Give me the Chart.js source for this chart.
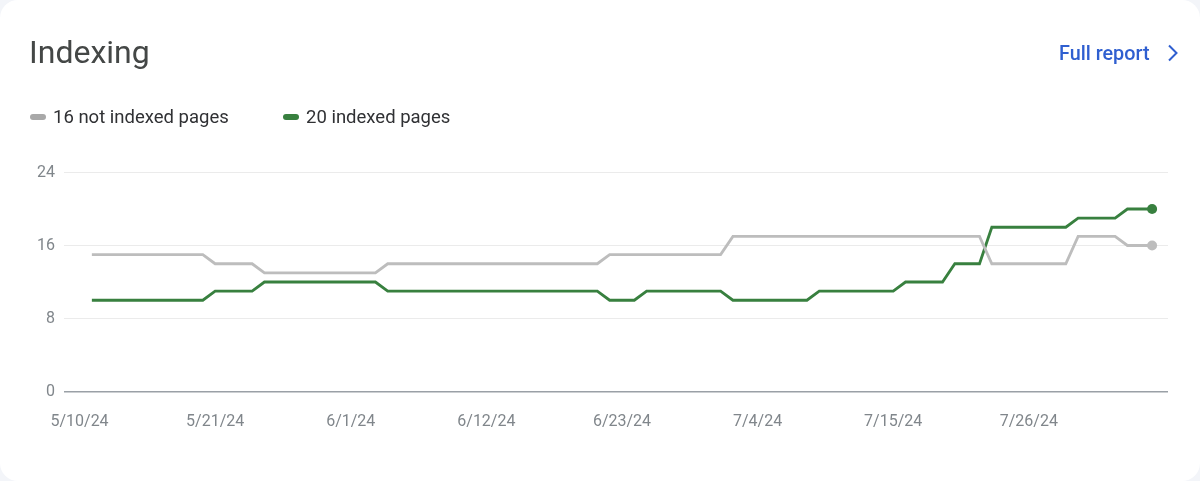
<!DOCTYPE html>
<html>
<head>
<meta charset="utf-8">
<title>Indexing</title>
<script src="https://cdn.jsdelivr.net/npm/chart.js@4/dist/chart.umd.min.js"></script>
<style>
html, body { margin: 0; padding: 0; background: #f3f5f9; }
#card { position: relative; width: 1200px; height: 481px; background: #fff; border-radius: 18px; overflow: hidden; font-family: Roboto, sans-serif; }
#chart-box { position: absolute; left: 0; top: 0; width: 1200px; height: 481px; }
h1 { position: absolute; left: 29px; top: 33px; margin: 0; font-size: 32px; line-height: 38px; font-weight: 400; color: #444746; }
#full-report { position: absolute; left: 1059px; top: 41.5px; font-size: 19.8px; line-height: 24px; font-weight: 500; color: #2f5fd0; text-decoration: none; }
#chevron { position: absolute; left: 1166px; top: 44px; }
#legend { position: absolute; left: 30px; top: 104.5px; font-size: 18.5px; line-height: 24px; color: #303134; }
.legend-item { position: absolute; top: 0; white-space: nowrap; padding-left: 23px; }
.legend-item i { position: absolute; left: 0; top: 9px; width: 16px; height: 6px; border-radius: 3px; }
</style>
</head>
<body>
<div id="card">
    <div id="chart-box"><canvas id="indexing-chart" width="1200" height="481"></canvas></div>
    <h1>Indexing</h1>
    <a id="full-report" href="#">Full report</a>
    <svg id="chevron" width="14" height="18" viewBox="0 0 14 18"><path d="M3 1.5 L10.5 9 L3 16.5" fill="none" stroke="#2f5fd0" stroke-width="2"/></svg>
    <div id="legend"></div>
</div>
<script>
const dates = [
    '5/11/24', '5/12/24', '5/13/24', '5/14/24', '5/15/24', '5/16/24', '5/17/24', '5/18/24', '5/19/24', '5/20/24',
    '5/21/24', '5/22/24', '5/23/24', '5/24/24', '5/25/24', '5/26/24', '5/27/24', '5/28/24', '5/29/24', '5/30/24',
    '5/31/24', '6/1/24', '6/2/24', '6/3/24', '6/4/24', '6/5/24', '6/6/24', '6/7/24', '6/8/24', '6/9/24',
    '6/10/24', '6/11/24', '6/12/24', '6/13/24', '6/14/24', '6/15/24', '6/16/24', '6/17/24', '6/18/24', '6/19/24',
    '6/20/24', '6/21/24', '6/22/24', '6/23/24', '6/24/24', '6/25/24', '6/26/24', '6/27/24', '6/28/24', '6/29/24',
    '6/30/24', '7/1/24', '7/2/24', '7/3/24', '7/4/24', '7/5/24', '7/6/24', '7/7/24', '7/8/24', '7/9/24',
    '7/10/24', '7/11/24', '7/12/24', '7/13/24', '7/14/24', '7/15/24', '7/16/24', '7/17/24', '7/18/24', '7/19/24',
    '7/20/24', '7/21/24', '7/22/24', '7/23/24', '7/24/24', '7/25/24', '7/26/24', '7/27/24', '7/28/24', '7/29/24',
    '7/30/24', '7/31/24', '8/1/24', '8/2/24', '8/3/24', '8/4/24', '8/5/24'
];
const notIndexed = [
    15, 15, 15, 15, 15, 15, 15, 15, 15, 15,
    14, 14, 14, 14, 13, 13, 13, 13, 13, 13,
    13, 13, 13, 13, 14, 14, 14, 14, 14, 14,
    14, 14, 14, 14, 14, 14, 14, 14, 14, 14,
    14, 14, 15, 15, 15, 15, 15, 15, 15, 15,
    15, 15, 17, 17, 17, 17, 17, 17, 17, 17,
    17, 17, 17, 17, 17, 17, 17, 17, 17, 17,
    17, 17, 17, 14, 14, 14, 14, 14, 14, 14,
    17, 17, 17, 17, 16, 16, 16
];
const indexed = [
    10, 10, 10, 10, 10, 10, 10, 10, 10, 10,
    11, 11, 11, 11, 12, 12, 12, 12, 12, 12,
    12, 12, 12, 12, 11, 11, 11, 11, 11, 11,
    11, 11, 11, 11, 11, 11, 11, 11, 11, 11,
    11, 11, 10, 10, 10, 11, 11, 11, 11, 11,
    11, 11, 10, 10, 10, 10, 10, 10, 10, 11,
    11, 11, 11, 11, 11, 11, 12, 12, 12, 12,
    14, 14, 14, 18, 18, 18, 18, 18, 18, 18,
    19, 19, 19, 19, 20, 20, 20
];
const xTickLabels = ['5/10/24', '5/21/24', '6/1/24', '6/12/24', '6/23/24', '7/4/24', '7/15/24', '7/26/24'];
const yTickValues = [0, 8, 16, 24];
const seriesNames = ['16 not indexed pages', '20 indexed pages'];
const seriesColors = ['#bdbdbd', '#38803f'];
const swatchColors = ['#a8a8a8', '#38803f'];
const legendLefts = [0, 253];

// dates as day numbers so the axis can sit on a linear scale
function toDay(s) {
    const p = s.split('/');
    return Date.UTC(2000 + Number(p[2]), Number(p[0]) - 1, Number(p[1])) / 86400000;
}
const firstDay = toDay(xTickLabels[0]);

function points(values) {
    return values.map((v, i) => ({ x: toDay(dates[i]), y: v }));
}

function lastDot(ctx) {
    return ctx.dataIndex === ctx.dataset.data.length - 1 ? 5 : 0;
}

const legend = document.getElementById('legend');
seriesNames.forEach((name, i) => {
    const item = document.createElement('span');
    item.className = 'legend-item';
    item.style.left = legendLefts[i] + 'px';
    item.innerHTML = '<i style="background:' + swatchColors[i] + '"></i>' + name;
    legend.appendChild(item);
});

new Chart(document.getElementById('indexing-chart'), {
    type: 'line',
    data: {
        datasets: [
            { label: seriesNames[0], data: points(notIndexed), borderColor: seriesColors[0], backgroundColor: seriesColors[0] },
            { label: seriesNames[1], data: points(indexed), borderColor: seriesColors[1], backgroundColor: seriesColors[1] }
        ]
    },
    options: {
        responsive: false,
        animation: false,
        layout: { padding: { top: 172.5, right: 32, bottom: 0, left: 0 } },
        elements: {
            line: { borderWidth: 2.8, tension: 0 },
            point: { radius: lastDot, borderWidth: 0, hoverRadius: lastDot }
        },
        plugins: { legend: { display: false }, title: { display: false } },
        scales: {
            x: {
                type: 'linear',
                min: firstDay - 1.26,
                max: firstDay + 88.29,
                grid: { display: false },
                border: { display: false },
                afterBuildTicks: scale => {
                    scale.ticks = xTickLabels.map(l => ({ value: toDay(l) }));
                },
                afterFit: scale => { scale.height = 89.5; },
                ticks: {
                    autoSkip: false,
                    maxRotation: 0,
                    padding: 13,
                    color: '#80868b',
                    font: { family: 'Roboto', size: 16 },
                    callback: value => xTickLabels.find(l => toDay(l) === value)
                }
            },
            y: {
                min: 0,
                max: 24,
                grid: {
                    color: ctx => ctx.tick.value === 0 ? '#9aa0a6' : '#ebebeb',
                    lineWidth: ctx => ctx.tick.value === 0 ? 1.5 : 1,
                    drawTicks: false
                },
                border: { display: false },
                afterBuildTicks: scale => {
                    scale.ticks = yTickValues.map(v => ({ value: v }));
                },
                afterFit: scale => { scale.width = 64; },
                ticks: {
                    padding: 9,
                    color: '#80868b',
                    font: { family: 'Roboto', size: 16 }
                }
            }
        }
    }
});
</script>
</body>
</html>
